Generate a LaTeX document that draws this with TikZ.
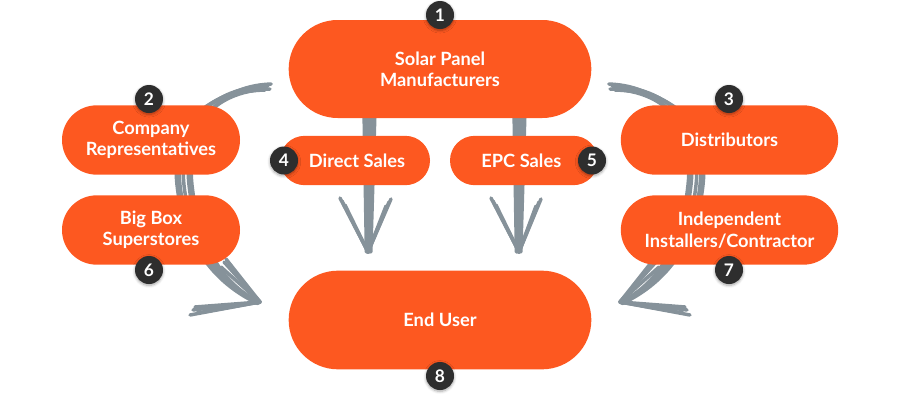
\documentclass[tikz,border=0pt]{standalone}
\usepackage{fontspec}
\setmainfont{Lato}
\usetikzlibrary{shapes.misc,shadows.blur}
\definecolor{orng}{HTML}{FD5820}
\definecolor{badgec}{HTML}{2E2E2E}
\definecolor{arrowc}{HTML}{86929A}
\begin{document}
\begin{tikzpicture}[x=0.75pt,y=-0.75pt,
  pill/.style={rounded rectangle, fill=orng, text=white, font=\bfseries\fontsize{13.7}{16}\selectfont, align=center, inner sep=0pt},
  badge/.style={circle, fill=badgec, text=white, font=\bfseries\fontsize{13}{14}\selectfont, minimum size=21pt, inner sep=0pt, blur shadow={shadow blur steps=6, shadow xshift=0pt, shadow yshift=-1pt, shadow opacity=35}},
  sk/.style={draw=arrowc, line width=2.6pt, line cap=round, line join=round}]
\useasboundingbox (0,0) rectangle (900,400);
% arrows (behind)
% left sweep
\foreach \dx/\dy in {0/0, 5/3, -4/2, 8/-2, -7/4}{
  \draw[sk] (268+\dx*0.4,86+\dy) .. controls (205+\dx,88+\dy) and (178+\dx,130) .. (184+\dx,185) .. controls (190+\dx,240) and (215+\dx*0.5,282) .. (258,302+\dy*0.4);
}
\foreach \ax/\ay in {0/0, 4/3, -3/5, 2/-3}{
  \draw[sk] (193+\ax,310+\ay) -- (260,302);
  \draw[sk] (224+\ax,262+\ay) -- (260,302);
}
% right sweep (mirror)
\foreach \dx/\dy in {0/0, 5/3, -4/2, 8/-2, -7/4}{
  \draw[sk] (612-\dx*0.4,86+\dy) .. controls (675-\dx,88+\dy) and (702-\dx,130) .. (696-\dx,185) .. controls (690-\dx,240) and (665-\dx*0.5,282) .. (622,302+\dy*0.4);
}
\foreach \ax/\ay in {0/0, 4/3, -3/5, 2/-3}{
  \draw[sk] (687-\ax,310+\ay) -- (620,302);
  \draw[sk] (656-\ax,262+\ay) -- (620,302);
}
% middle arrows
\foreach \dx in {-4,0,4,7}{
  \draw[sk] (368+\dx,110) -- (368+\dx*0.4,252);
  \draw[sk] (518+\dx,110) -- (518+\dx*0.4,252);
}
\foreach \ax/\ay in {0/0,3/4,-2/-3}{
  \draw[sk] (342+\ax,201+\ay) -- (368,252);
  \draw[sk] (389-\ax,202+\ay) -- (368,252);
  \draw[sk] (493+\ax,201+\ay) -- (519,252);
  \draw[sk] (539-\ax,202+\ay) -- (519,252);
}
% nodes
\node[pill, minimum width=227pt, minimum height=73.5pt] (top) at (440,69) {Solar Panel\\Manufacturers};
\node[pill, minimum width=227pt, minimum height=74pt] (end) at (440,320) {End User};
\node[pill, minimum width=133.5pt, minimum height=52pt] (comp) at (151,140) {Company\\Representatives};
\node[pill, minimum width=133.5pt, minimum height=52pt] (big) at (151,230) {Big Box\\Superstores};
\node[pill, minimum width=163pt, minimum height=52pt] (dist) at (729.5,140) {Distributors};
\node[pill, minimum width=163pt, minimum height=52pt] (inst) at (729.5,230) {Independent\\Installers/Contractor};
\node[pill, minimum width=112.5pt, minimum height=37pt] (direct) at (355,160.5) {\hspace*{3pt}Direct Sales};
\node[pill, minimum width=111pt, minimum height=37pt] (epc) at (524,160.5) {EPC Sales\hspace*{4pt}};
% badges
\node[badge] (b1) at (440,15) {1};
\node[badge] (b2) at (149,99) {2};
\node[badge] (b3) at (729,99) {3};
\node[badge] (b4) at (284,160.5) {4};
\node[badge] (b5) at (592,160.5) {5};
\node[badge] (b6) at (149,270) {6};
\node[badge] (b7) at (729,270) {7};
\node[badge] (b8) at (440,376) {8};
\end{tikzpicture}
\end{document}
